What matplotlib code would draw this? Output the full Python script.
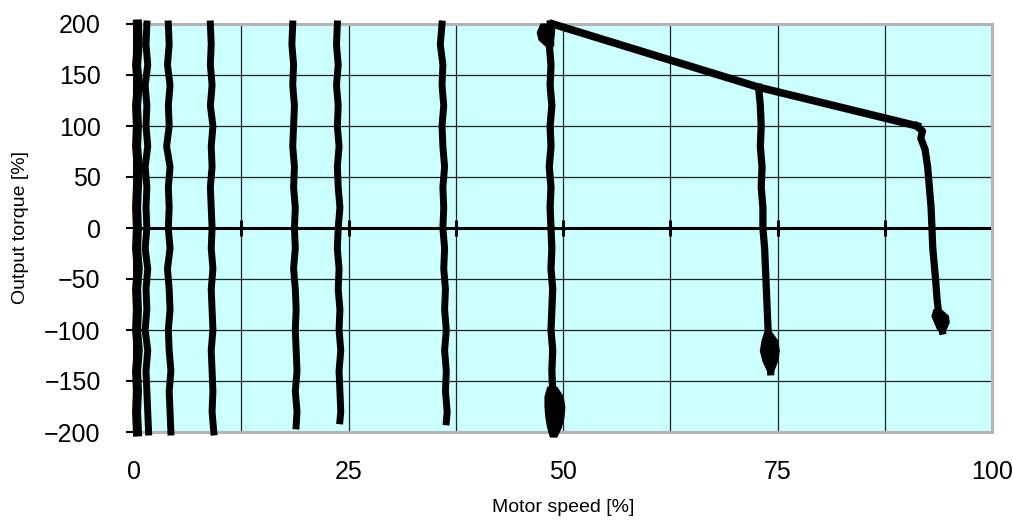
import matplotlib
matplotlib.use('Agg')
import matplotlib.pyplot as plt
from matplotlib.ticker import MultipleLocator

plt.rcParams['font.family'] = ['Liberation Sans', 'DejaVu Sans']

# torque sample levels used by most traces (top -> bottom)
trq_std = [200, 180, 160, 140, 120, 100, 80, 60, 40, 20, 0,
           -20, -40, -60, -80, -100, -120, -140, -160, -180, -200]

# speed readings along each measured trace [%]
spd_a = [0.4, 0.5, 0.3, 0.5, 0.3, 0.4, 0.3, 0.5, 0.4, 0.3, 0.4,
         0.3, 0.5, 0.3, 0.4, 0.3, 0.5, 0.3, 0.4, 0.3, 0.4]
spd_b = [1.5, 1.4, 1.6, 1.3, 1.5, 1.4, 1.6, 1.3, 1.5, 1.4, 1.5,
         1.3, 1.6, 1.4, 1.5, 1.3, 1.6, 1.4, 1.5, 1.6, 1.7]
spd_c = [4.0, 4.1, 3.9, 4.2, 4.0, 4.1, 3.8, 4.2, 4.0, 4.1, 4.0,
         4.2, 3.9, 4.1, 4.2, 4.0, 4.1, 4.3, 4.1, 4.2, 4.3]
spd_d = [8.9, 9.0, 8.9, 9.1, 8.9, 9.2, 9.0, 9.1, 8.9, 9.0, 9.1,
         9.0, 9.2, 9.0, 9.1, 9.2, 9.0, 9.1, 9.2, 9.1, 9.3]

trq_e = [200, 180, 160, 140, 120, 100, 80, 60, 40, 20, 0,
         -20, -40, -60, -80, -100, -120, -140, -160, -180, -194]
spd_e = [18.5, 18.4, 18.6, 18.5, 18.7, 18.6, 18.5, 18.7, 18.6, 18.8, 18.7,
         18.8, 18.6, 18.8, 18.9, 18.8, 18.9, 19.0, 18.8, 19.0, 18.9]
trq_f = [200, 180, 160, 140, 120, 100, 80, 60, 40, 20, 0,
         -20, -40, -60, -80, -100, -120, -140, -160, -180, -189]
spd_f = [23.7, 23.6, 23.8, 23.6, 23.8, 23.7, 23.9, 23.7, 23.8, 24.0, 23.8,
         23.7, 23.9, 23.8, 24.0, 23.9, 24.1, 23.9, 24.0, 24.1, 24.0]
trq_g = [200, 180, 160, 140, 120, 100, 80, 60, 40, 20, 0,
         -20, -40, -60, -80, -100, -120, -140, -160, -180, -190]
spd_g = [35.9, 35.7, 36.0, 35.9, 36.1, 35.9, 36.0, 36.2, 36.0, 36.1, 36.0,
         36.2, 36.1, 36.3, 36.2, 36.4, 36.2, 36.4, 36.3, 36.5, 36.4]
trq_h = [200, 180, 160, 140, 120, 100, 80, 60, 40, 20, 0,
         -20, -40, -60, -80, -100, -120, -140, -160, -180, -200]
spd_h = [48.5, 48.4, 48.6, 48.5, 48.7, 48.5, 48.6, 48.4, 48.6, 48.5, 48.6,
         48.7, 48.6, 48.8, 48.7, 48.6, 48.8, 48.7, 48.8, 48.9, 48.9]
trq_i = [138, 120, 100, 80, 60, 40, 20, 0, -20, -40, -60, -80, -100, -120, -141]
spd_i = [72.8, 73.0, 73.1, 73.0, 73.2, 73.1, 73.3, 73.3, 73.5, 73.6, 73.7,
         73.8, 73.9, 74.1, 74.2]
trq_j = [100, 95, 88, 77, 60, 40, 20, 0, -20, -48, -70, -85, -101]
spd_j = [91.2, 91.9, 91.7, 92.2, 92.5, 92.7, 92.9, 93.0, 93.1, 93.4, 93.6,
         93.8, 94.2]

# clusters of points where the traces spread out (left / right edges)
blob_h_top_trq = [200, 192, 185, 179]
blob_h_top_lo = [47.4, 47.0, 47.2, 48.0]
blob_h_top_hi = [48.9, 48.9, 48.8, 48.8]
blob_h_bot_trq = [-156, -165, -175, -185, -195, -204]
blob_h_bot_lo = [48.2, 47.9, 47.9, 48.0, 48.2, 48.5]
blob_h_bot_hi = [49.2, 49.9, 50.1, 50.0, 49.7, 49.2]
blob_i_trq = [-102, -110, -120, -130, -141]
blob_i_lo = [73.5, 73.2, 73.0, 73.3, 73.9]
blob_i_hi = [74.2, 74.9, 75.1, 74.9, 74.4]
blob_j_trq = [-80, -86, -92, -98, -102]
blob_j_lo = [93.2, 93.0, 93.3, 93.6, 94.0]
blob_j_hi = [94.0, 94.8, 94.9, 94.6, 94.3]

# outer limit line
env_spd = [48.8, 72.8, 91.3]
env_trq = [200, 138, 100]

traces = [(spd_a, trq_std, 6.5), (spd_b, trq_std, 5.0), (spd_c, trq_std, 5.0),
          (spd_d, trq_std, 5.0), (spd_e, trq_e, 5.0), (spd_f, trq_f, 5.0),
          (spd_g, trq_g, 5.0), (spd_h, trq_h, 5.2), (spd_i, trq_i, 5.2),
          (spd_j, trq_j, 5.2)]
blobs = [(blob_h_top_trq, blob_h_top_lo, blob_h_top_hi),
         (blob_h_bot_trq, blob_h_bot_lo, blob_h_bot_hi),
         (blob_i_trq, blob_i_lo, blob_i_hi),
         (blob_j_trq, blob_j_lo, blob_j_hi)]

fig = plt.figure(figsize=(10.13, 5.22), dpi=100)
ax = fig.add_axes([134 / 1013, 90 / 522, 858 / 1013, 408 / 522])
ax.set_facecolor('#ccffff')

ax.set_xlim(0, 100)
ax.set_ylim(-200, 200)
ax.xaxis.set_major_locator(MultipleLocator(25))
ax.xaxis.set_minor_locator(MultipleLocator(12.5))
ax.yaxis.set_major_locator(MultipleLocator(50))
ax.grid(True, which='both', color='#222222', lw=0.9, zorder=1)
ax.set_axisbelow(True)

ax.axhline(0, color='black', lw=2.2, zorder=2)
zero_ticks = [i * 12.5 for i in range(9)]
ax.plot(zero_ticks, [0] * len(zero_ticks), ls='none', marker='|', ms=12,
        mew=2.2, color='black', zorder=2, clip_on=False)

for spd, trq, w in traces:
    ax.plot(spd, trq, color='black', lw=w, solid_joinstyle='round',
            zorder=3, clip_on=False)
for trq, lo, hi in blobs:
    ax.fill_betweenx(trq, lo, hi, color='black', lw=1.5, zorder=3, clip_on=False)
ax.plot(env_spd, env_trq, color='black', lw=5.5, zorder=3, clip_on=False)

for side in ['top', 'right', 'bottom']:
    ax.spines[side].set_color('#b4b4b4')
    ax.spines[side].set_linestyle((0, (1, 1)))
    ax.spines[side].set_linewidth(2.2)
ax.spines['left'].set_color('black')
ax.spines['left'].set_linewidth(1.5)

ax.tick_params(axis='x', which='both', length=0, pad=20, labelsize=18)
ax.tick_params(axis='y', direction='inout', length=12, width=1.5,
               pad=18, labelsize=18)

ax.set_xlabel('Motor speed [%]', fontsize=14)
ax.set_ylabel('Output torque [%]', fontsize=14)
ax.xaxis.set_label_coords(0.5, -0.163)
ax.yaxis.set_label_coords(-0.122, 0.5)

fig.savefig('out.png', dpi=100)
